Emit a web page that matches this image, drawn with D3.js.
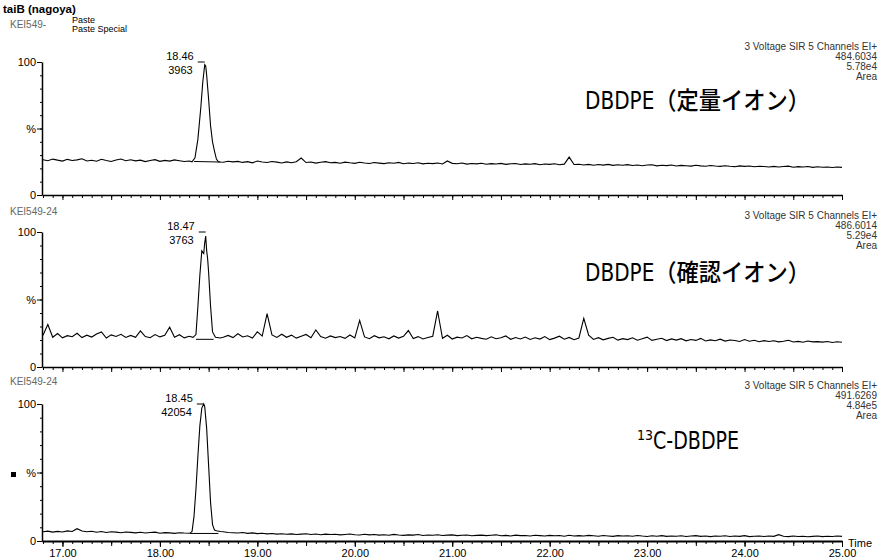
<!DOCTYPE html>
<html lang="ja">
<head>
<meta charset="UTF-8">
<title>taiB (nagoya) - SIR chromatograms</title>
<script src="https://d3js.org/d3.v7.min.js"></script>
<style>
  body { margin: 0; background: #fff; }
  svg { font-family: "Liberation Sans", Arial, sans-serif; }
  .trace { fill: none; stroke: #000; stroke-width: 1.1; }
  .intline { fill: none; stroke: #000; stroke-width: 1; }
  .axis path, .axis line { stroke: #000; }
  .axis text { font-size: 11px; fill: #000; font-family: "Liberation Sans", Arial, sans-serif; }
  .hdr { font-size: 10px; fill: #333; }
  .faint { font-size: 10px; fill: #666; }
  .peaklbl { font-size: 11px; fill: #000; }
  .big { font-family: "DejaVu Sans Condensed", "Noto Sans CJK JP", sans-serif; font-size: 24px; font-weight: 500; fill: #000; }
</style>
</head>
<body>
<svg id="chart" width="879" height="560"></svg>
<script>
// intensity (% of channel max) sampled every 0.05 min from 16.80 to 25.00
// null = sample lies inside the peak, the peak points are listed separately
const sampleStart = 16.80, sampleStep = 0.05;

const trace1 = [
  26.5,25.8,27.0,26.2,25.5,26.8,25.9,26.4,27.2,25.6,
  26.1,25.4,26.9,26.0,25.2,26.3,27.1,25.8,26.5,25.7,
  26.2,25.1,25.9,26.6,25.3,26.0,25.5,26.4,25.8,25.2,
  25.6,null,null,null,null,null,null,24.6,25.4,24.9,
  25.3,24.5,25.1,24.2,25.6,24.8,24.4,25.2,24.7,24.1,
  24.9,24.3,25.0,27.8,24.4,24.8,24.0,24.6,25.1,24.2,
  24.5,23.9,24.7,24.2,23.8,24.6,24.1,23.7,24.4,24.0,
  23.6,24.3,23.9,24.5,23.5,24.0,23.7,24.2,23.4,23.9,
  23.6,24.1,23.3,25.6,23.8,23.5,24.0,23.2,23.7,23.4,
  23.9,23.1,23.6,23.3,23.8,23.0,23.5,23.7,22.9,23.4,
  23.1,23.6,22.8,23.3,23.0,23.5,22.7,23.2,28.5,22.9,
  23.1,22.6,23.0,22.4,22.9,22.5,23.0,22.3,22.7,22.4,
  22.8,22.2,22.6,22.0,22.5,22.7,21.9,22.4,22.1,22.6,
  21.8,22.3,22.0,21.7,22.4,21.9,21.6,22.2,21.8,21.5,
  22.0,21.6,21.3,21.9,21.5,21.8,21.2,21.6,21.4,21.0,
  21.5,21.1,21.4,21.7,20.9,21.3,21.0,21.4,20.8,21.2,
  20.9,21.1,20.7,21.0,20.8
];
const peak1 = [
  [18.33,25.0],[18.36,28],[18.39,42],[18.42,66],[18.44,85],[18.46,98],[18.47,97],
  [18.48,90],[18.50,72],[18.52,52],[18.54,40],[18.56,33],[18.58,27],[18.60,25],[18.62,24.8]
];
const baseline1 = [[18.35,25.2],[18.62,24.8]];

const trace2 = [
  23.5,31.5,22.0,24.8,21.6,23.2,22.4,25.0,21.8,23.6,
  22.2,24.5,26.0,21.5,23.8,22.6,24.2,21.9,23.4,22.0,
  26.8,22.5,21.7,24.0,22.3,23.5,29.5,22.1,23.9,21.6,
  22.8,null,null,null,null,null,null,22.0,23.4,21.8,
  24.6,22.2,23.1,21.5,26.0,22.9,39.5,23.8,21.9,24.3,
  22.0,23.6,21.4,22.8,24.1,21.7,27.5,22.5,21.3,23.0,
  21.8,22.6,21.2,23.7,21.5,34.5,22.3,21.0,23.2,21.6,
  22.4,20.9,23.0,21.4,22.7,27.0,21.1,22.5,20.8,21.9,
  22.8,41.5,21.3,23.5,20.7,22.1,21.5,23.3,20.9,22.0,
  21.2,20.6,22.4,20.9,21.7,23.0,20.5,21.8,20.8,22.2,
  20.4,21.6,20.7,22.5,20.3,21.4,22.8,20.6,21.9,20.2,
  21.5,36.0,23.5,20.4,21.7,20.1,21.2,22.0,19.9,21.0,
  20.3,21.6,19.8,20.9,22.1,19.7,20.5,21.3,19.6,20.8,
  19.9,21.0,19.4,20.4,19.7,21.2,19.3,20.1,19.5,20.6,
  19.2,20.0,19.6,18.9,20.3,19.1,19.8,18.7,19.5,18.9,
  19.4,18.6,19.1,19.8,18.5,19.0,18.3,19.2,18.6,18.8,
  18.4,18.9,18.2,18.7,18.3
];
const peak2 = [
  [18.34,22],[18.37,24],[18.39,45],[18.41,68],[18.43,86],[18.45,84],[18.46,92],[18.47,97],
  [18.48,86],[18.49,80],[18.50,70],[18.52,45],[18.54,26],[18.57,22],[18.62,21.5]
];
const baseline2 = [[18.37,20.5],[18.55,20.5]];

const trace3 = [
  6.8,7.2,6.5,7.0,6.6,7.4,6.9,9.0,7.3,6.8,
  7.1,6.4,6.9,6.2,6.7,6.5,6.0,6.6,6.3,5.9,
  6.4,5.8,6.2,6.5,5.7,6.1,5.9,5.6,6.0,5.8,
  5.7,null,null,null,null,null,null,6.8,6.2,6.0,
  5.8,6.2,5.6,5.9,5.4,5.7,5.2,5.5,5.0,5.3,
  4.9,5.2,4.7,5.0,5.3,4.8,5.1,4.6,5.0,4.7,
  4.9,4.5,4.8,5.1,4.6,4.4,4.9,4.5,4.7,4.3,
  4.6,4.2,4.8,4.4,4.1,4.5,4.3,4.7,4.0,4.4,
  4.2,4.6,4.0,4.3,4.5,3.9,4.2,4.4,3.8,4.1,
  4.3,3.9,4.2,4.5,3.8,4.1,3.7,4.3,3.9,4.0,
  3.7,4.2,3.9,3.6,4.1,3.8,4.0,3.5,4.2,3.7,
  3.9,3.6,4.1,3.8,3.5,4.0,3.7,3.4,3.9,3.6,
  3.8,3.5,4.0,3.6,3.3,3.8,3.5,3.9,3.4,3.7,
  3.5,3.8,3.3,3.6,3.9,3.4,3.7,3.2,3.6,3.5,
  3.8,3.3,3.6,3.4,3.9,3.2,3.5,3.7,3.3,3.6,
  3.4,4.6,3.5,3.2,3.6,3.3,3.5,3.1,3.4,3.6,
  3.2,3.5,3.3,3.6,3.4
];
const peak3 = [
  [18.31,5.8],[18.33,7],[18.35,18],[18.37,38],[18.39,62],[18.41,84],[18.43,97],[18.45,100],
  [18.46,98],[18.48,82],[18.50,55],[18.52,28],[18.54,12],[18.56,8],[18.58,7.5],[18.62,6.9]
];
const baseline3 = [[18.31,5.5],[18.60,5.5]];

const peakTimes = [18.46, 18.47, 18.45];
const peakTimeLabels = ["18.46", "18.47", "18.45"];
const peakAreas = ["3963", "3763", "42054"];
const sampleNames = ["KEI549-", "KEI549-24", "KEI549-24"];
const functionLine = "3  Voltage SIR 5 Channels EI+";
const channelMasses = ["484.6034", "486.6014", "491.6269"];
const channelMaxima = ["5.78e4", "5.29e4", "4.84e5"];
const compoundNames = ["DBDPE（定量イオン）", "DBDPE（確認イオン）", "C-DBDPE"];
const yTickValues = [0, 50, 100];
const yTickLabels = ["0", "%", "100"];
const xLabelTicks = [17, 18, 19, 20, 21, 22, 23, 24, 25];
const xTickLabels = ["17.00", "18.00", "19.00", "20.00", "21.00", "22.00", "23.00", "24.00", "25.00"];

const svg = d3.select("#chart");
const x = d3.scaleLinear().domain([16.79, 25.0]).range([42, 842]);

// panel geometry: y of 100% and 0%, plus header offsets
const layout = [
  { top: 62,  bottom: 195, hdr: 46,  name: 24 },
  { top: 232, bottom: 367, hdr: 215, name: 211 },
  { top: 404, bottom: 541, hdr: 385, name: 381 }
];

function series(values, peak) {
  const pts = values.map((v, i) => [sampleStart + i * sampleStep, v]).filter(d => d[1] !== null);
  return pts.concat(peak).sort((a, b) => a[0] - b[0]);
}

const traces = [series(trace1, peak1), series(trace2, peak2), series(trace3, peak3)];
const baselines = [baseline1, baseline2, baseline3];

const minorTicks = d3.range(168, 251).map(d => d / 10);
const halfTicks = d3.range(34, 51).map(d => d / 2);

svg.append("text").attr("x", 3).attr("y", 13)
  .attr("font-size", 11.5).attr("font-weight", "bold").text("taiB (nagoya)");
svg.append("text").attr("x", 72).attr("y", 23)
  .attr("font-size", 9).text("Paste");
svg.append("text").attr("x", 72).attr("y", 32)
  .attr("font-size", 9).text("Paste  Special");

layout.forEach((p, i) => {
  const y = d3.scaleLinear().domain([0, 100]).range([p.bottom, p.top]);
  const g = svg.append("g");

  // y axis
  g.append("g").attr("class", "axis")
    .attr("transform", "translate(42,0)")
    .call(d3.axisLeft(y).tickValues(d3.range(0, 101, 10)).tickSize(2).tickSizeOuter(0).tickFormat(""))
    .call(a => a.select(".domain").attr("stroke-width", 1.5));
  g.append("g").attr("class", "axis")
    .attr("transform", "translate(42,0)")
    .call(d3.axisLeft(y).tickValues(yTickValues).tickSize(5).tickPadding(1)
      .tickFormat((d, k) => yTickLabels[k]))
    .call(a => a.select(".domain").remove());

  // x axis along the 0 line
  g.append("g").attr("class", "axis")
    .attr("transform", `translate(0,${p.bottom})`)
    .call(d3.axisBottom(x).tickValues(minorTicks).tickSize(3).tickSizeOuter(0).tickFormat(""))
    .call(a => a.select(".domain").attr("stroke-width", i === 2 ? 2.2 : 1.6));
  g.append("g").attr("class", "axis")
    .attr("transform", `translate(0,${p.bottom})`)
    .call(d3.axisBottom(x).tickValues(halfTicks).tickSize(5).tickFormat(""))
    .call(a => a.select(".domain").remove());
  if (i === 2) {
    g.append("g").attr("class", "axis")
      .attr("transform", `translate(0,${p.bottom})`)
      .call(d3.axisBottom(x).tickValues(xLabelTicks).tickSize(6).tickPadding(2)
        .tickFormat((d, k) => xTickLabels[k]))
      .call(a => a.select(".domain").remove());
    g.append("text").attr("x", 848).attr("y", p.bottom + 6)
      .attr("font-size", 11).text("Time");
  }

  // chromatogram trace
  const line = d3.line().x(d => x(d[0])).y(d => y(d[1]));
  g.append("path").attr("class", "trace").attr("d", line(traces[i]));
  g.append("path").attr("class", "intline").attr("d", line(baselines[i]));

  // peak annotation
  const px = x(peakTimes[i]);
  g.append("line").attr("x1", px - 7).attr("x2", px)
    .attr("y1", y(100)).attr("y2", y(100)).attr("stroke", "#000");
  g.append("text").attr("class", "peaklbl").attr("text-anchor", "end")
    .attr("x", px - 11).attr("y", y(100) - 2).text(peakTimeLabels[i]);
  g.append("text").attr("class", "peaklbl").attr("text-anchor", "end")
    .attr("x", px - 12).attr("y", y(100) + 12).text(peakAreas[i]);

  // sample name and channel header
  g.append("text").attr("class", "faint").attr("x", 10).attr("y", p.name + 4).text(sampleNames[i]);
  const hdr = [functionLine, channelMasses[i], channelMaxima[i], "Area"];
  hdr.forEach((t, k) => {
    g.append("text").attr("class", "hdr").attr("text-anchor", "end")
      .attr("x", 877).attr("y", p.hdr + 4 + k * 10).text(t);
  });
});

// compound labels
svg.append("text").attr("class", "big").attr("x", 585).attr("y", 109)
  .attr("textLength", 225).attr("lengthAdjust", "spacingAndGlyphs").text(compoundNames[0]);
svg.append("text").attr("class", "big").attr("x", 585).attr("y", 281)
  .attr("textLength", 225).attr("lengthAdjust", "spacingAndGlyphs").text(compoundNames[1]);
const lbl3 = svg.append("text").attr("class", "big").attr("x", 637).attr("y", 449);
lbl3.append("tspan").attr("font-size", 14).attr("dy", -9).text("13");
lbl3.append("tspan").attr("dy", 9).attr("textLength", 86).attr("lengthAdjust", "spacingAndGlyphs")
  .text(compoundNames[2]);

svg.append("rect").attr("x", 11).attr("y", 472).attr("width", 5).attr("height", 5).attr("fill", "#000");
</script>
</body>
</html>
